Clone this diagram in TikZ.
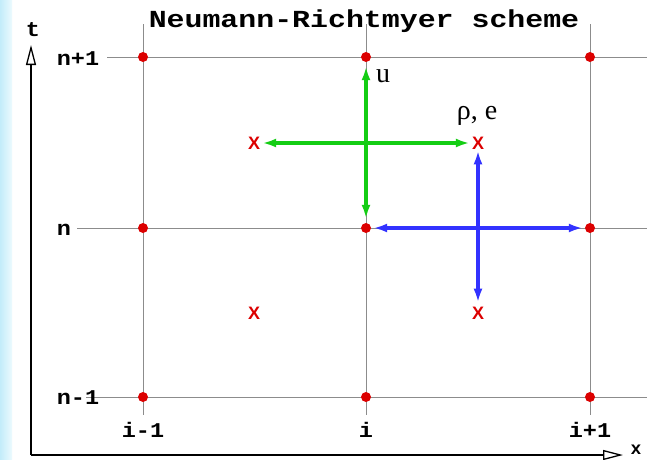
\documentclass[tikz,border=0pt]{standalone}
\usepackage{graphicx}
\usepackage{fontspec}
\setmainfont{Liberation Serif}
\newfontfamily\monofam{Liberation Mono}
\newfontfamily\sansfam{Liberation Sans}
\usetikzlibrary{arrows.meta}
\definecolor{dotred}{RGB}{220,0,0}
\definecolor{arrgreen}{RGB}{20,205,20}
\definecolor{arrblue}{RGB}{50,50,255}
\definecolor{gridgray}{RGB}{140,140,140}
\definecolor{stripL}{RGB}{195,236,250}
\definecolor{stripR}{RGB}{236,250,254}
\newcommand\hstretch[2]{\scalebox{#1}[1]{#2}}
\begin{document}
\begin{tikzpicture}[x=1pt,y=-1pt,
  gridline/.style={draw=gridgray, line width=0.9pt},
  axisline/.style={draw=black, line width=1.8pt,
    -{Triangle[open,length=20pt,width=10pt,line width=1.3pt]}},
  dot/.style={circle, fill=dotred, inner sep=0pt, minimum size=10pt},
  xmark/.style={text=dotred, font=\sansfam\bfseries\fontsize{18}{18}\selectfont, inner sep=0pt},
  lbl/.style={font=\monofam\bfseries\fontsize{21}{21}\selectfont, inner sep=0pt, anchor=base},
  greek/.style={font=\fontsize{28}{28}\selectfont, inner sep=0pt},
  garrow/.style={draw=arrgreen, line width=3.5pt,
    {Latex[length=14pt,width=9pt]}-{Latex[length=14pt,width=9pt]}},
  barrow/.style={draw=arrblue, line width=3.5pt,
    {Latex[length=14pt,width=9pt]}-{Latex[length=14pt,width=9pt]}}
]
\useasboundingbox (0,0) rectangle (647,459);
\clip (0,0) rectangle (647,459);
\fill[white] (0,0) rectangle (647,459);
\shade[left color=stripL, right color=stripR] (0,0) rectangle (12,459);

% grid lines
\coordinate (v1t) at (143,24); \coordinate (v1b) at (143,415);
\coordinate (v2t) at (366,24); \coordinate (v2b) at (366,415);
\coordinate (v3t) at (590,24); \coordinate (v3b) at (590,415);
\coordinate (h1l) at (107,57);  \coordinate (h1r) at (647,57);
\coordinate (h2l) at (77,228);  \coordinate (h2r) at (647,228);
\coordinate (h3l) at (86,397);  \coordinate (h3r) at (647,397);
\draw[gridline] (v1t) -- (v1b);
\draw[gridline] (v2t) -- (v2b);
\draw[gridline] (v3t) -- (v3b);
\draw[gridline] (h1l) -- (h1r);
\draw[gridline] (h2l) -- (h2r);
\draw[gridline] (h3l) -- (h3r);

% axes
\coordinate (origin) at (31,455);
\coordinate (tend) at (31,45);
\coordinate (xend) at (623,455);
\draw[axisline] (origin) -- (tend);
\draw[axisline] (origin) -- (xend);
\node[lbl] (tlab) at (33,36) {\hstretch{1.12}{t}};
\node[lbl, font=\monofam\bfseries\fontsize{18}{18}\selectfont] (xlab) at (636,454) {x};

% title
\node[font=\monofam\bfseries\fontsize{24.5}{24.5}\selectfont, inner sep=0pt, anchor=base]
  (title) at (364,27) {\hstretch{1.22}{Neumann-Richtmyer scheme}};

% row labels
\node[lbl] (ln1) at (78,65) {\hstretch{1.12}{n+1}};
\node[lbl] (ln)  at (64,235) {\hstretch{1.12}{n}};
\node[lbl] (lnm) at (78,404) {\hstretch{1.12}{n-1}};
% column labels
\node[lbl] (lim) at (143,437) {\hstretch{1.12}{i-1}};
\node[lbl] (li)  at (366,437) {\hstretch{1.12}{i}};
\node[lbl] (lip) at (590,437) {\hstretch{1.12}{i+1}};

% grid dots
\node[dot] (a1) at (143,57) {};
\node[dot] (a2) at (366,57) {};
\node[dot] (a3) at (590,57) {};
\node[dot] (b1) at (143,228) {};
\node[dot] (b2) at (366,228) {};
\node[dot] (b3) at (590,228) {};
\node[dot] (c1) at (143,397) {};
\node[dot] (c2) at (366,397) {};
\node[dot] (c3) at (590,397) {};

% half-point marks
\node[xmark] (xul) at (254,143) {X};
\node[xmark] (xur) at (478,143) {X};
\node[xmark] (xll) at (254,313) {X};
\node[xmark] (xlr) at (478,313) {X};

% arrows
\draw[garrow, shorten <=4pt, shorten >=4pt] (a2) -- (b2);
\draw[garrow, shorten <=2pt, shorten >=2pt] (xul) -- (xur);
\draw[barrow, shorten <=2pt, shorten >=2pt] (b2) -- (b3);
\draw[barrow, shorten <=1pt, shorten >=4pt] (xur) -- (xlr);

% variable labels
\node[greek] (ulab) at (383,76) {u};
\node[greek] (rholab) at (477,116) {ρ, e};
\end{tikzpicture}
\end{document}
